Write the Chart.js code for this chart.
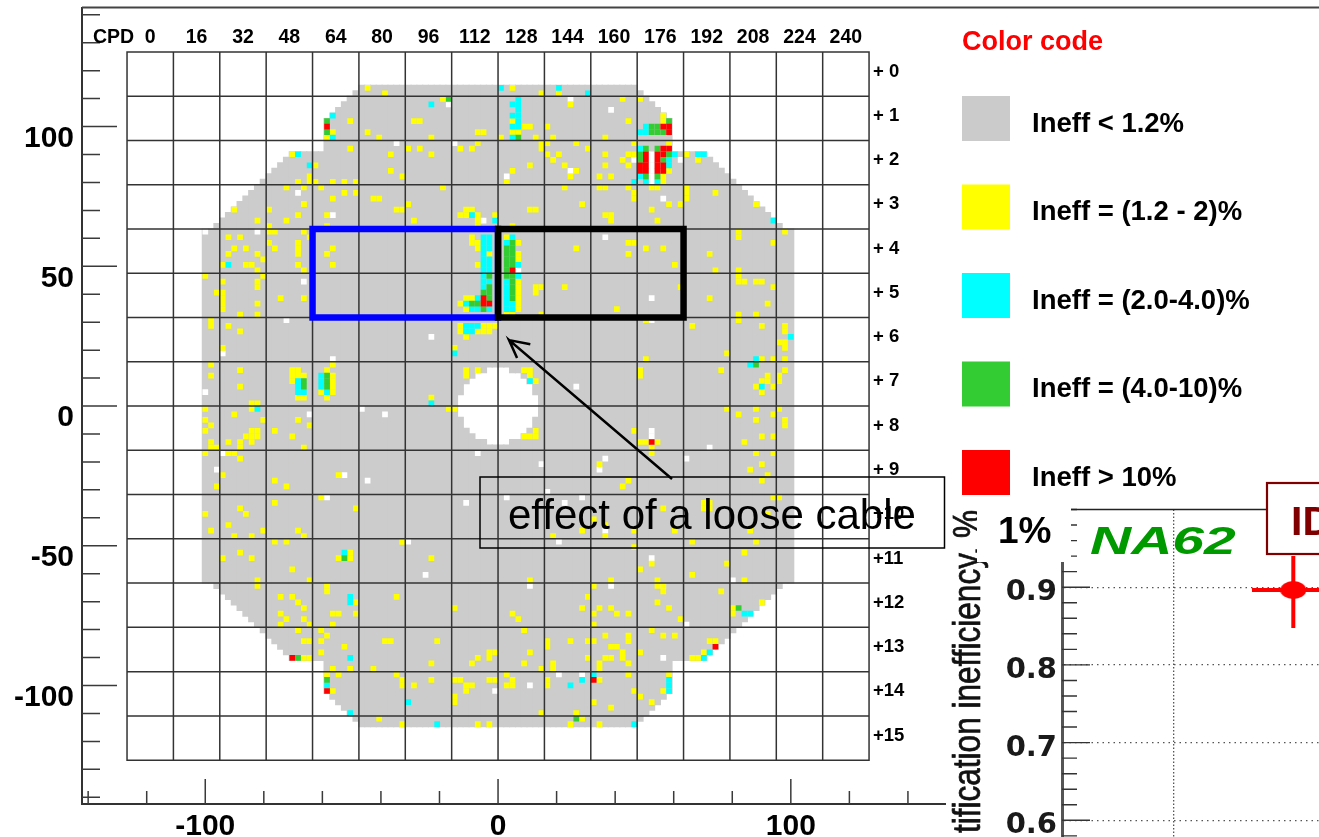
<!DOCTYPE html>
<html><head><meta charset="utf-8">
<script src="https://cdn.jsdelivr.net/npm/chart.js@4/dist/chart.umd.min.js"></script>
<style>html,body{margin:0;padding:0;background:#fff;overflow:hidden}
#main{position:absolute;left:0;top:0}#panel{position:absolute;left:946px;top:478px}</style>
</head><body>
<canvas id="main" width="1319" height="837"></canvas>
<canvas id="panel" width="373" height="359"></canvas>
<script>
// ---- detector map: channel bins (col,row), 128 x 128 ----
const greyFirstCol = 13;
const greyTopRows = [32,32,31,30,29,28,27,26,25,24,23,22,21,20,19,18,18,18,18,18,18,12,11,10,9,8,7,
 6,6,6,6,6,6,6,6,6,6,6,6,6,6,6,6,6,6,6,6,6,6,6,6,6,6,6,6,6,6,6,6,6,6,6,6,6,6,6,6,6,6,6,6,6,6,6,6,
 7,8,9,10,11,12,18,18,18,18,18,18,19,20,21,22,23,24,25,26,27,28,29,30,31,32,32];
const greyBottomRows = [95,95,96,97,98,99,100,101,102,103,104,105,106,107,108,109,109,109,109,109,109,115,116,117,118,119,120,
 121,121,121,121,121,121,121,121,121,121,121,121,121,121,121,121,121,121,121,121,121,121,121,121,121,121,121,121,121,121,121,121,121,121,121,121,121,121,121,121,121,121,121,121,121,121,121,121,
 120,119,118,117,116,115,109,109,109,109,109,109,108,107,106,105,104,103,102,101,100,99,98,97,96,95,95];
const holeCols = [57,58,59,60,61,62,63,64,65,66,67,68,69,70];
const holeTopRows = [62,60,59,58,58,57,57,57,57,58,58,59,60,62];
const holeBottomRows = [65,67,68,69,69,70,70,70,70,69,69,68,67,65];

const yellowCells = [[41,6],[44,7],[38,12],[41,14],[43,15],[35,14],[34,15],[38,17],[48,17],[45,18],[28,18],[32,20],[45,21],[47,22],[31,22],[31,23],[29,23],[32,23],[35,23],[37,23],[39,23],[27,24],[30,24],[33,24],[37,25],[39,25],[35,26],[42,26],[43,26],[30,27],[46,28],[47,28],[18,28],[24,28],[48,27],
[66,6],[71,7],[74,7],[54,8],[76,9],[85,8],[88,8],[92,11],[92,12],[49,12],[50,12],[86,12],[66,12],[68,13],[69,13],[72,13],[60,14],[61,14],[66,14],[67,14],[52,15],[64,15],[70,15],[73,15],[82,15],[60,16],[71,16],[71,17],[72,16],[77,16],[87,16],[93,16],[50,17],[57,17],[59,17],[79,17],[52,18],[72,18],[74,18],[82,18],[86,18],[87,18],[73,19],[85,19],[98,19],[96,18],[69,20],[75,20],[82,20],[86,20],[66,21],[77,21],[93,21],[76,22],[81,22],[83,22],[92,22],[92,23],[65,23],[54,24],[75,24],[81,24],[82,24],[86,24],[90,24],[91,24],[96,24],[87,25],[87,26],[96,25],[96,26],[78,27],[93,27],[95,27],[90,28],[58,28],[59,28],[69,28],[70,28],[57,29],[58,29],[60,29],[82,29],[83,29],[83,30],[91,30],[49,30],[60,30],[60,31],[63,29],[66,31],[86,34],[87,34],[77,35],[89,35],[92,35],
[59,33],[59,34],[60,34],[60,35],[62,36],[60,38],[58,44],[59,44],[57,45],[58,46],[65,33],[67,34],[67,36],[67,37],[67,41],[67,42],[67,43],[67,44],[67,45],[67,46],[65,47],[66,47],[70,42],[71,42],[70,43],[71,47],
[57,49],[57,50],[60,50],[61,50],[62,50],[61,49],[62,49],[63,49],[58,51],[56,53],[58,57],[58,58],[60,57],[68,57],[69,57],[69,58],[70,59],[52,62],[55,64],[56,64],[70,68],[68,69],[69,69],[70,69],[89,55],[88,57],[88,58],[97,49],[87,68],[88,70],[89,70],[91,70],[90,71],[90,72],[81,74],[86,77],[85,78],[92,82],[99,81],[100,81],[99,82],[100,82],[80,84],[82,85],[78,86],[73,87],[82,87],[87,86],[94,86],[47,88],[97,88],
[86,36],[94,38],[75,42],[95,42],[84,46],[100,36],[100,44],[89,48],
[30,27],[29,29],[22,30],[27,30],[34,29],[24,31],[34,31],[24,32],[25,32],[30,32],[31,33],[17,33],[19,33],[24,34],[25,35],[18,35],[20,35],[29,34],[29,35],[29,36],[17,36],[22,36],[35,35],[34,36],[23,37],[29,38],[20,38],[21,38],[35,38],[16,38],[22,39],[30,39],[23,40],[13,40],[16,41],[22,41],[22,42],[15,43],[16,43],[16,44],[16,45],[16,46],[26,44],[30,44],[22,45],[19,47],[22,47],[14,48],[14,49],[17,49],[19,50],[16,53],[35,56],[14,56],[14,58],[19,57],[19,60],[28,57],[29,57],[28,58],[29,58],[28,59],[30,58],[29,62],[30,62],[34,57],[35,58],[35,59],[35,60],[35,61],[33,61],[34,62],[21,63],[22,63],[21,64],[13,64],[18,65],[23,66],[13,66],[29,66],[14,67],[31,67],[13,68],[25,68],[21,68],[22,68],[20,69],[21,69],[22,69],[28,69],[14,70],[14,71],[17,70],[19,70],[19,71],[21,70],[15,71],[30,71],[13,72],[17,72],[18,72],[19,73],[16,76],[36,76],[25,77],
[15,78],[27,78],[33,80],[25,81],[19,82],[20,83],[13,83],[39,82],[17,85],[14,86],[23,86],[29,86],[18,87],[21,87],[30,87],[25,88],[27,88],[47,88],[19,90],[16,91],[21,91],[38,90],[38,91],[36,91],[52,91],[28,93],[22,95],[22,96],[31,95],[34,96],[34,97],[26,98],[28,98],[46,98],[29,99],[39,99],[30,100],[56,100],[26,101],[35,101],[36,101],[39,101],[27,102],[30,102],[26,103],[31,103],[35,103],[29,104],[33,104],[34,105],[30,106],[31,106],[33,106],[44,106],[45,106],[53,106],[37,107],[33,108],[30,109],[31,109],[52,110],[59,110],[60,109],[62,108],[62,109],[35,111],[38,111],[42,111],[34,112],[36,112],[46,112],[35,115],[47,113],[47,114],[49,114],[52,113],[56,113],[57,113],[58,114],[59,114],[58,115],[62,113],[56,116],[56,117],[43,120],[47,121],[60,121],[62,121],
[108,88],[87,89],[106,90],[90,92],[103,92],[88,93],[97,94],[69,95],[83,95],[91,95],[106,95],[80,96],[91,96],[92,96],[92,97],[102,97],[79,98],[91,99],[109,99],[78,100],[81,100],[83,100],[93,100],[80,101],[66,101],[84,101],[86,101],[67,102],[95,102],[104,100],[104,101],[80,103],[68,104],[90,104],[82,105],[92,105],[94,105],[86,105],[86,106],[72,106],[72,107],[76,106],[79,106],[80,106],[100,106],[101,106],[83,107],[84,107],[85,108],[85,109],[99,108],[88,108],[69,108],[63,108],[82,109],[83,109],[79,109],[97,109],[98,109],[86,110],[68,110],[73,110],[73,111],[71,111],[81,110],[81,111],[65,112],[86,112],[93,112],[63,113],[81,113],[66,113],[66,114],[65,114],[72,113],[72,114],[87,115],[92,115],[88,116],[90,117],[80,117],[83,118],[71,119],[77,119],[76,121],[81,121],[78,120],
[108,27],[113,32],[105,32],[105,33],[111,34],[101,39],[105,39],[105,40],[105,41],[106,41],[108,41],[109,41],[111,42],[110,45],[105,47],[105,48],[108,47],[109,49],[113,49],[113,50],[112,52],[113,52],[113,53],[103,54],[109,55],[111,55],[113,55],[102,57],[113,57],[110,58],[109,59],[110,59],[112,58],[112,59],[108,60],[111,60],[109,61],[103,64],[108,64],[112,64],[105,65],[111,65],[108,66],[113,66],[113,67],[109,69],[111,69],[106,70],[108,72],[111,72],[107,75],[109,74],[110,76],[109,77],[111,80],[112,80],[101,25],[110,83],[107,86]];
const cyanCells = [[35,11],[35,15],[29,18],[31,20],[64,6],[74,6],[79,7],[52,9],[67,8],[66,9],[67,9],[67,10],[66,11],[67,11],[67,12],[66,13],[67,13],[66,15],[88,14],[89,13],[89,14],[88,17],[94,18],[98,18],[99,18],[93,19],[93,20],[88,22],[87,23],[89,23],[91,23],[59,29],[63,30],
[61,33],[61,34],[61,35],[61,36],[61,37],[61,38],[61,39],[61,40],[62,33],[62,34],[62,35],[62,37],[62,38],[62,39],[61,41],[61,42],[62,41],[60,44],[58,45],[59,46],[60,46],[62,46],[66,33],[65,34],[67,38],[67,40],[65,41],[65,42],[65,43],[65,44],[65,45],[65,46],[66,45],[66,46],
[58,49],[59,49],[60,49],[58,50],[59,50],[56,54],[69,59],[52,63],[17,38],[29,59],[29,60],[29,61],[30,61],[33,58],[33,59],[33,60],[34,61],[22,64],
[37,90],[38,98],[38,99],[38,109],[34,114],[48,117],[38,119],[53,121],[106,101],[107,101],[100,108],[99,109],[80,112],[78,113],[76,114],[93,113],[93,114],[93,115],[87,121],[111,30],[114,51],[108,55],[107,56],[109,60]];
const greenCells = [[34,12],[34,14],[55,8],[67,15],[93,12],[90,13],[91,13],[90,14],[91,14],[92,14],[89,17],[91,17],[88,18],[88,19],[93,18],[92,19],[89,22],[91,22],
[62,40],[62,42],[61,43],[62,43],[62,44],[59,45],[60,45],[61,46],[66,34],[65,35],[65,36],[65,37],[65,38],[65,39],[65,40],[66,35],[66,36],[66,37],[66,38],[66,40],[66,41],[66,42],[66,43],[66,44],
[30,59],[30,60],[34,58],[34,59],[34,60],[37,91],[29,109],[34,113],[105,100],[77,120],[108,56]];
const redCells = [[34,13],[92,13],[93,13],[93,14],[89,18],[89,19],[89,20],[89,21],[88,20],[88,21],[91,18],[91,19],[91,20],[91,21],[92,20],[92,21],[92,17],[93,17],[92,18],[61,44],[61,45],[62,45],[66,39],[90,70],[28,109],[34,115],[101,107],[80,113]];
const whiteCells = [[46,16],[29,25],[55,9],[76,8],[83,10],[56,16],[87,19],[90,18],[90,19],[90,20],[90,21],[90,22],[90,23],[95,19],[76,21],[65,22],[92,26],[61,30],[82,33],[67,39],[52,51],[60,72],[71,74],[77,60],[90,68],[90,69],[82,73],[81,75],[96,73],[100,71],[72,79],[65,80],[58,81],[78,80],[75,81],[82,86],[74,88],[48,88],[13,32],[22,32],[35,29],[30,41],[27,48],[16,54],[35,55],[13,61],[31,65],[40,64],[44,65],[16,72],[15,75],[37,76],[34,80],[41,77],[51,94],[90,91],[69,96],[83,96],[92,96],[104,95],[96,103],[92,109],[74,112],[78,112],[69,114],[63,115],[90,44],[90,48]];

// PM grid boundaries, in detector units
const gridEdges = [-126.72,-110.88,-95.04,-79.2,-63.36,-47.52,-31.68,-15.84,0,15.84,31.68,47.52,63.36,79.2,95.04,110.88,126.72];
const blueBoxX = [-63.36,0,0,-63.36,-63.36];
const blackBoxX = [0,63.36,63.36,0,0];
const boxY = [63.36,63.36,31.68,31.68,63.36];
const arrowX = [10.6,3.76,6.5,3.76,59.1];
const arrowY = [22.2,23.6,17.2,23.6,-25.8];

const xTickValues = [-140,-120,-100,-80,-60,-40,-20,0,20,40,60,80,100,120,140,160,180,200,220,240,260,280];
const yTickValues = [-140,-130,-120,-110,-100,-90,-80,-70,-60,-50,-40,-30,-20,-10,0,10,20,30,40,50,60,70,80,90,100,110,120,130,140];
const cpdLabels = ['0','16','32','48','64','80','96','112','128','144','160','176','192','208','224','240'];
const rowLabels = ['+ 0','+ 1','+ 2','+ 3','+ 4','+ 5','+ 6','+ 7','+ 8','+ 9','+10','+11','+12','+13','+14','+15'];
const legendLabels = ['Ineff < 1.2%','Ineff = (1.2 - 2)%','Ineff = (2.0-4.0)%','Ineff = (4.0-10)%','Ineff > 10%'];
const legendColors = ['#cbcbcb','#ffff00','#00ffff','#33cc33','#ff0000'];

// ---- inset panel ----
const insetYTicks = [0.58,0.6,0.62,0.64,0.66,0.68,0.7,0.72,0.74,0.76,0.78,0.8,0.82,0.84,0.86,0.88,0.9,0.92,0.94,0.96,0.98,1.0];
const insetYLabels = [0.6,0.7,0.8,0.9];
const insetXGrid = [1];
const insetPointX = [2.07];
const insetPointY = [0.8964];
const insetErrX = [1.70,2.5];
const insetErrY = [0.8475,0.94];

const SANS = '"Liberation Sans", Arial, sans-serif';
const binX = c => -126.72 + c*1.98;
const binY = r => 126.72 - r*1.98;
const toPts = cells => cells.map(([c,r]) => ({x:binX(c+.5), y:binY(r+.5)}));
const noPad = s => { s.paddingLeft=s.paddingRight=s.paddingTop=s.paddingBottom=0; };

const greyUpper = [], greyLower = [];
greyTopRows.forEach((top,i) => {
  const c = greyFirstCol+i, h = holeCols.indexOf(c);
  const bottom = greyBottomRows[i];
  if (h < 0) { greyUpper.push({x:binX(c+.5), y:[binY(top), binY(bottom+1)]}); }
  else {
    greyUpper.push({x:binX(c+.5), y:[binY(top), binY(holeTopRows[h])]});
    greyLower.push({x:binX(c+.5), y:[binY(holeBottomRows[h]+1), binY(bottom+1)]});
  }
});
const gridPts = [];
const lo = gridEdges[0], hi = gridEdges[gridEdges.length-1];
gridEdges.forEach(v => { gridPts.push({x:v,y:lo},{x:v,y:hi},{x:NaN,y:NaN},{x:lo,y:v},{x:hi,y:v},{x:NaN,y:NaN}); });
const pairs = (a,b) => a.map((v,i)=>({x:v,y:b[i]}));

const cellSet = (cells,color,order) => ({type:'scatter',data:toPts(cells),backgroundColor:color,borderWidth:0,
  pointStyle:'rect',pointRadius:4.05,pointHoverRadius:4.05,order,showLine:false});
const lineSet = (data,color,width,order) => ({type:'scatter',data,showLine:true,borderColor:color,borderWidth:width,pointRadius:0,
  spanGaps:false,tension:0,order,borderJoinStyle:'miter',borderCapStyle:'square'});

const mainDecor = {
  id:'mainDecor',
  afterDraw(chart){
    const {ctx,scales:{x,y},chartArea:a} = chart;
    ctx.save();
    ctx.strokeStyle='#3a3a3a'; ctx.lineWidth=1.5;
    ctx.beginPath();
    x.ticks.forEach(t=>{ const p=x.getPixelForValue(t.value); if(p>945) return;
      ctx.moveTo(p,a.bottom); ctx.lineTo(p,a.bottom-(t.value%100===0?25:13)); });
    y.ticks.forEach(t=>{ const p=y.getPixelForValue(t.value);
      ctx.moveTo(a.left,p); ctx.lineTo(a.left+(t.value%50===0?35:18),p); });
    ctx.stroke();
    // frame top
    ctx.strokeStyle='#444'; ctx.lineWidth=2;
    ctx.beginPath(); ctx.moveTo(a.left,a.top); ctx.lineTo(1319,a.top); ctx.stroke();
    // top & right labels
    ctx.fillStyle='#000'; ctx.textBaseline='middle';
    ctx.font='bold 19.5px '+SANS; ctx.textAlign='center';
    cpdLabels.forEach((s,i)=>ctx.fillText(s,x.getPixelForValue((gridEdges[i]+gridEdges[i+1])/2),38));
    ctx.textAlign='left'; ctx.fillText('CPD',93,38);
    ctx.font='bold 18.5px '+SANS;
    rowLabels.forEach((s,i)=>ctx.fillText(s,873,y.getPixelForValue((gridEdges[15-i]+gridEdges[16-i])/2)-2.5));
    // legend
    ctx.fillStyle='#ff0000'; ctx.font='bold 27px '+SANS; ctx.fillText('Color code',962,43);
    ctx.font='bold 27.5px '+SANS;
    legendLabels.forEach((s,i)=>{
      const top=96+i*88.5;
      ctx.fillStyle=legendColors[i]; ctx.fillRect(962,top,48,45);
      ctx.fillStyle='#000'; ctx.fillText(s,1032,top+28);
    });
    // annotation
    ctx.strokeStyle='#000'; ctx.lineWidth=1.5; ctx.strokeRect(480,477,464.5,71);
    ctx.fillStyle='#000'; ctx.font='42px '+SANS; ctx.textBaseline='alphabetic';
    ctx.fillText('effect of a loose cable',508,529);
    ctx.restore();
  }
};

new Chart(document.getElementById('main'),{
  type:'scatter',
  data:{datasets:[
    lineSet(pairs(arrowX,arrowY),'#000',2.5,0),
    lineSet(pairs(blackBoxX,boxY),'#000',6.5,1),
    lineSet(pairs(blueBoxX,boxY),'#0000ff',6.5,2),
    lineSet(gridPts,'#333',1.5,3),
    cellSet(redCells,'#ff0000',4),
    cellSet(greenCells,'#33cc33',5),
    cellSet(cyanCells,'#00ffff',6),
    cellSet(yellowCells,'#ffff00',7),
    cellSet(whiteCells,'#ffffff',8),
    {type:'bar',data:greyUpper,backgroundColor:'#cccccc',borderWidth:0,barThickness:6.4,grouped:false,order:9},
    {type:'bar',data:greyLower,backgroundColor:'#cccccc',borderWidth:0,barThickness:6.4,grouped:false,order:10}
  ]},
  options:{
    responsive:false,animation:false,devicePixelRatio:1,
    layout:{padding:{left:0,right:0,top:7.5,bottom:0},autoPadding:false},
    plugins:{legend:{display:false},tooltip:{enabled:false},title:{display:false}},
    events:[],
    scales:{
      x:{type:'linear',min:-142.1,max:280.4,offset:false,
        afterBuildTicks:s=>{s.ticks=xTickValues.map(v=>({value:v}));},
        afterFit:s=>{s.height=33;noPad(s);},
        grid:{display:false,drawTicks:false,offset:false},
        border:{display:true,color:'#333',width:2},
        ticks:{autoSkip:false,maxRotation:0,padding:8,color:'#000',
          font:{family:SANS,size:30,weight:'bold',lineHeight:1},
          callback:v=>(v%100===0&&v<=100)?String(v):''}},
      y:{type:'linear',min:-142.4,max:142.6,
        afterBuildTicks:s=>{s.ticks=yTickValues.map(v=>({value:v}));},
        afterFit:s=>{s.width=82;noPad(s);},
        grid:{display:false,drawTicks:false},
        border:{display:true,color:'#333',width:2},
        ticks:{autoSkip:false,padding:8,color:'#000',
          font:{family:SANS,size:30,weight:'bold',lineHeight:'24px'},
          callback:v=>(v%50===0&&Math.abs(v)<=100)?['',String(v)]:''}}
    }
  },
  plugins:[mainDecor]
});

// ---- inset ----
const ell = document.createElement('canvas'); ell.width=26; ell.height=18;
{const c=ell.getContext('2d'); c.fillStyle='#ff0000'; c.beginPath(); c.ellipse(13,9,13,9,0,0,Math.PI*2); c.fill();}

const insetDecor = {
  id:'insetDecor',
  beforeDraw(chart){
    const c=chart.ctx; c.save(); c.fillStyle='#fff'; c.fillRect(0,27,chart.width,chart.height-27); c.restore();
  },
  afterDraw(chart){
    const {ctx,scales:{y},chartArea:a} = chart;
    ctx.save();
    ctx.strokeStyle='#333'; ctx.lineWidth=1.4; ctx.beginPath();
    y.ticks.forEach(t=>{ const p=y.getPixelForValue(t.value);
      const major=insetYLabels.some(v=>Math.abs(v-t.value)<1e-6);
      ctx.moveTo(a.left,p); ctx.lineTo(a.left+(major?28:15),p); });
    ctx.stroke();
    // axis title
    ctx.save();
    ctx.translate(34,355); ctx.rotate(-Math.PI/2); ctx.scale(0.83,1);
    ctx.fillStyle='#111'; ctx.strokeStyle='#111'; ctx.lineWidth=0.7; ctx.font='38px '+SANS; ctx.textAlign='left'; ctx.textBaseline='alphabetic';
    const t='tification inefficiency, %'; ctx.fillText(t,0,0); ctx.strokeText(t,0,0);
    ctx.restore();
    // "1%" patch
    ctx.fillStyle='#fff'; ctx.fillRect(31,27,94,57);
    ctx.fillStyle='#000'; ctx.font='bold 37px '+SANS; ctx.textAlign='left'; ctx.textBaseline='alphabetic';
    ctx.fillText('1%',52,65);
    // top line
    ctx.strokeStyle='#222'; ctx.lineWidth=1.5; ctx.beginPath(); ctx.moveTo(125,a.top); ctx.lineTo(321,a.top); ctx.stroke();
    // NA62
    ctx.save(); ctx.translate(144,76); ctx.scale(1.5,1);
    ctx.fillStyle='#009900'; ctx.font='italic bold 38px '+SANS; ctx.fillText('NA62',0,0);
    ctx.restore();
    // ID box
    ctx.fillStyle='#fff'; ctx.fillRect(321,5,60,71);
    ctx.strokeStyle='#800000'; ctx.lineWidth=2.2; ctx.strokeRect(321,5,60,71);
    ctx.fillStyle='#800000'; ctx.font='bold 41px '+SANS; ctx.fillText('ID',345,57);
    ctx.restore();
  }
};

new Chart(document.getElementById('panel'),{
  type:'scatter',
  data:{datasets:[
    {data:pairs(insetPointX,insetPointY),pointStyle:ell,pointRadius:9,order:0},
    {...lineSet(pairs(insetErrX,[insetPointY[0],insetPointY[0]]),'#ff0000',4,1),borderCapStyle:'butt'},
    {...lineSet(pairs([insetPointX[0],insetPointX[0]],insetErrY),'#ff0000',4,2),borderCapStyle:'butt'}
  ]},
  options:{
    responsive:false,animation:false,devicePixelRatio:1,events:[],
    layout:{padding:{left:0,right:0,top:31.5,bottom:0},autoPadding:false},
    plugins:{legend:{display:false},tooltip:{enabled:false}},
    scales:{
      x:{type:'linear',min:0,max:2.3,
        afterBuildTicks:s=>{s.ticks=insetXGrid.map(v=>({value:v}));},
        afterFit:s=>{s.height=0;noPad(s);},
        grid:{display:true,drawTicks:false,color:'#555',lineWidth:1.3},
        border:{display:false,dash:[1.5,2]},
        ticks:{display:false}},
      y:{type:'linear',min:0.5785,max:1.0,
        afterBuildTicks:s=>{s.ticks=insetYTicks.map(v=>({value:v}));},
        afterFit:s=>{s.width=116;noPad(s);},
        grid:{display:true,drawTicks:false,lineWidth:1.2,
          color:c=>insetYLabels.some(v=>Math.abs(v-c.tick.value)<1e-6)?'#555':'rgba(0,0,0,0)'},
        border:{display:true,color:'#555',width:3,dash:[1.5,4]},
        ticks:{autoSkip:false,padding:5,color:'#1a1a1a',
          font:{family:'"DejaVu Sans"',size:29,weight:'bold',lineHeight:'11px'},
          callback:v=>insetYLabels.some(w=>Math.abs(w-v)<1e-6)?['',v.toFixed(1)]:''}}
    }
  },
  plugins:[insetDecor]
});
</script>
</body></html>
